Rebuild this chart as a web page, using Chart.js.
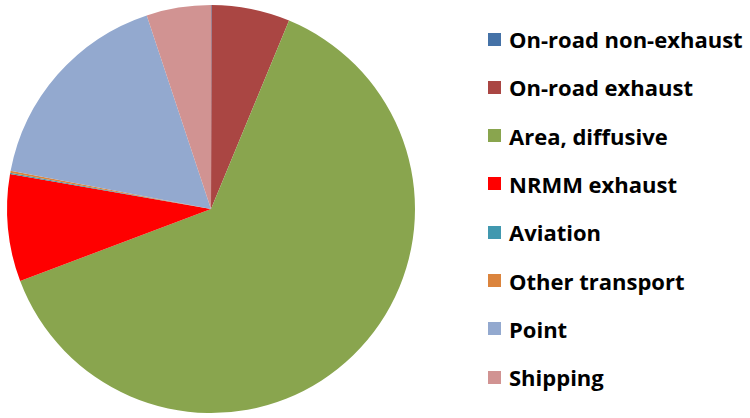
<!DOCTYPE html>
<html>
<head>
<meta charset="utf-8">
<script src="https://cdn.jsdelivr.net/npm/chart.js@4/dist/chart.umd.min.js"></script>
<style>
  body { margin: 0; background: #fff; }
  #wrap { position: relative; width: 750px; height: 418px; }
  #pieBox { position: absolute; left: 0; top: 0; width: 422px; height: 418px; }
  #legend { position: absolute; left: 488px; top: 0; font-family: "Open Sans", "Liberation Sans", sans-serif; font-weight: bold; font-size: 22px; color: #000; }
  .item { position: absolute; left: 0; white-space: nowrap; display: flex; align-items: center; height: 24px; }
  .box { width: 13px; height: 13px; margin-right: 8px; }
</style>
</head>
<body>
<div id="wrap">
  <div id="pieBox"><canvas id="pie"></canvas></div>
  <div id="legend"></div>
</div>
<script>
var labels = ["On-road non-exhaust", "On-road exhaust", "Area, diffusive", "NRMM exhaust", "Aviation", "Other transport", "Point", "Shipping"];
var shares = [0.05, 6.2, 63.0, 8.5, 0.1, 0.15, 16.9, 5.1];
var colours = ["#4572A7", "#AA4643", "#89A54E", "#FF0000", "#4198AF", "#DB843D", "#93A9CF", "#D19392"];

var pieChart = new Chart(document.getElementById("pie"), {
    type: "pie",
    data: {
        labels: labels,
        datasets: [{
            data: shares,
            backgroundColor: colours,
            borderWidth: 0
        }]
    },
    options: {
        responsive: true,
        maintainAspectRatio: false,
        animation: false,
        layout: { padding: 5 },
        plugins: {
            legend: { display: false },
            tooltip: { enabled: false }
        }
    }
});

// legend on the right, built from the chart's own data
var legendDiv = document.getElementById("legend");
for (let i = 0; i < labels.length; i++) {
    var item = document.createElement("div");
    item.className = "item";
    item.style.top = (27 + i * 48.3) + "px";
    var box = document.createElement("span");
    box.className = "box";
    box.style.background = pieChart.data.datasets[0].backgroundColor[i];
    item.append(box);
    item.append(document.createTextNode(pieChart.data.labels[i]));
    legendDiv.append(item);
}
</script>
</body>
</html>
